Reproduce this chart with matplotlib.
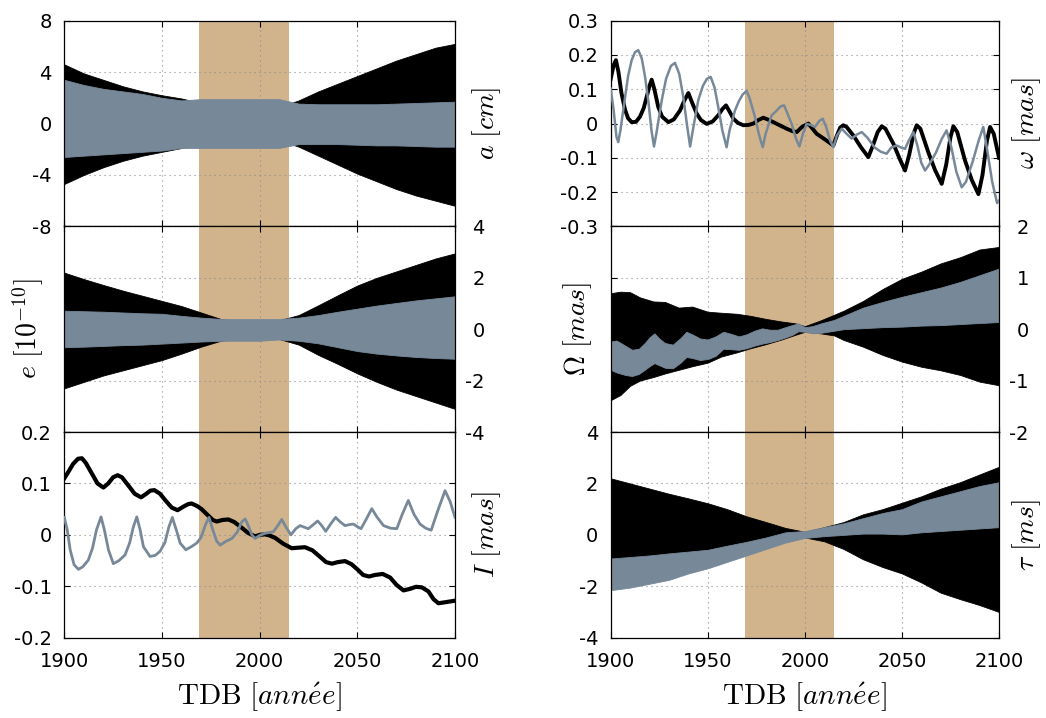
import numpy as np
import matplotlib
matplotlib.use("Agg")
from matplotlib import pyplot as plt

plt.rcParams['font.family'] = ['DejaVu Sans']
plt.rcParams['mathtext.fontset'] = 'cm'

# colours
black = '#000000'
grey = '#778899'
tan = '#D2B48C'

# LLR data span (shaded)
span = [1969, 2015]

# envelope sampling years for the dense (fast oscillation) series
yrs = np.arange(1900, 2101, 10)

# a [cm]
a_blk_hi = [4.6, 3.9, 3.4, 2.9, 2.5, 2.2, 1.95, 1.6, 1.4, 1.3, 1.2, 1.3, 1.8, 2.5, 3.1, 3.7, 4.3, 4.9, 5.4, 5.9, 6.2]
a_blk_lo = [-4.7, -4.0, -3.4, -2.9, -2.5, -2.2, -1.9, -1.6, -1.4, -1.3, -1.2, -1.3, -1.8, -2.5, -3.2, -3.9, -4.5, -5.1, -5.6, -6.0, -6.4]
a_gry_hi = [3.4, 3.0, 2.7, 2.5, 2.3, 2.0, 1.8, 1.9, 1.9, 1.9, 1.9, 1.9, 1.55, 1.5, 1.5, 1.5, 1.5, 1.55, 1.6, 1.65, 1.7]
a_gry_lo = [-2.6, -2.5, -2.4, -2.3, -2.2, -2.1, -1.9, -1.9, -1.9, -1.9, -1.9, -1.9, -1.6, -1.6, -1.6, -1.65, -1.7, -1.7, -1.75, -1.8, -1.8]

# e [1e-10]
e_blk_hi = [2.2, 1.95, 1.72, 1.5, 1.3, 1.1, 0.9, 0.65, 0.4, 0.3, 0.28, 0.35, 0.55, 0.93, 1.32, 1.7, 2.0, 2.25, 2.5, 2.75, 2.95]
e_blk_lo = [-2.3, -2.05, -1.8, -1.6, -1.4, -1.2, -0.95, -0.68, -0.45, -0.35, -0.3, -0.38, -0.6, -1.0, -1.35, -1.72, -2.05, -2.35, -2.6, -2.85, -3.1]
e_gry_hi = [0.72, 0.7, 0.68, 0.65, 0.62, 0.6, 0.52, 0.45, 0.4, 0.4, 0.4, 0.4, 0.45, 0.55, 0.68, 0.8, 0.92, 1.02, 1.12, 1.2, 1.28]
e_gry_lo = [-0.7, -0.68, -0.65, -0.62, -0.6, -0.56, -0.52, -0.48, -0.45, -0.45, -0.45, -0.4, -0.45, -0.55, -0.7, -0.85, -0.95, -1.02, -1.08, -1.12, -1.15]

# Omega [mas]
Om_blk_yrs = [1900, 1905, 1910, 1915, 1922, 1928, 1935, 1942, 1950, 1957, 1965, 1972, 1980, 1988,
              1995, 2000, 2008, 2015, 2020, 2030, 2040, 2050, 2060, 2070, 2080, 2090, 2100]
Om_blk_hi = [0.70, 0.73, 0.72, 0.62, 0.54, 0.53, 0.42, 0.44, 0.34, 0.32, 0.30, 0.26, 0.2, 0.15,
             0.115, 0.06, 0.17, 0.28, 0.36, 0.55, 0.78, 0.98, 1.12, 1.28, 1.4, 1.55, 1.6]
Om_blk_lo = [-1.38, -1.28, -1.1, -1.0, -0.93, -0.86, -0.79, -0.72, -0.65, -0.53, -0.45, -0.37, -0.29, -0.2,
             -0.11, -0.05, -0.08, -0.12, -0.21, -0.34, -0.5, -0.63, -0.73, -0.8, -0.89, -1.02, -1.09]
Om_gry_yrs = [1900, 1903, 1907.5, 1911, 1914.5, 1917.5, 1920, 1922.5, 1925, 1928,
              1932, 1936, 1939, 1942, 1946, 1950, 1954, 1958, 1962, 1966,
              1970, 1974, 1978, 1982, 1986, 1990, 1993.5, 1996.6, 2000, 2004,
              2008.5, 2015, 2020, 2030, 2040, 2050, 2060, 2070, 2080, 2090, 2100]
Om_gry_hi = [-0.24, -0.22, -0.32, -0.40, -0.38, -0.27, -0.16, -0.08, -0.18, -0.27,
             -0.3, -0.17, -0.05, -0.1, -0.18, -0.2, -0.14, -0.05, -0.09, -0.14,
             -0.1, -0.03, 0.017, -0.01, -0.01, 0.04, 0.08, 0.115, 0.04, 0.06,
             0.115, 0.18, 0.26, 0.42, 0.53, 0.63, 0.72, 0.81, 0.92, 1.05, 1.18]
Om_gry_lo = [-0.79, -0.84, -0.89, -0.91, -0.87, -0.79, -0.72, -0.66, -0.7, -0.75,
             -0.76, -0.65, -0.54, -0.56, -0.6, -0.58, -0.52, -0.38, -0.39, -0.4,
             -0.37, -0.32, -0.28, -0.25, -0.21, -0.16, -0.11, -0.04, -0.05, -0.08,
             -0.07, -0.03, 0.0, 0.02, 0.04, 0.05, 0.07, 0.08, 0.1, 0.12, 0.14]

# tau [ms]
tau_blk_hi = [2.2, 2.0, 1.8, 1.6, 1.42, 1.23, 1.0, 0.72, 0.5, 0.27, 0.12, 0.3, 0.5, 0.8, 1.0, 1.25, 1.5, 1.8, 2.05, 2.35, 2.65]
tau_blk_lo = [-1.0, -0.95, -0.87, -0.78, -0.7, -0.62, -0.47, -0.32, -0.15, -0.05, -0.1, -0.25, -0.55, -0.95, -1.25, -1.5, -1.85, -2.25, -2.5, -2.73, -3.0]
tau_gry_hi = [-0.92, -0.86, -0.8, -0.72, -0.65, -0.58, -0.42, -0.27, -0.1, 0.1, 0.15, 0.3, 0.45, 0.65, 0.85, 1.0, 1.3, 1.5, 1.7, 1.9, 2.05]
tau_gry_lo = [-2.15, -2.05, -1.9, -1.75, -1.5, -1.3, -1.05, -0.8, -0.55, -0.3, -0.12, -0.05, 0.0, 0.05, 0.05, 0.02, 0.1, 0.15, 0.2, 0.25, 0.3]

# omega [mas] (slow curves)
w_blk_t = [1900.0, 1901.5, 1902.7, 1904.0, 1905.5, 1907.4, 1909.0, 1910.8, 1913.0, 1915.1, 1917.0, 1918.5,
           1920.0, 1921.1, 1922.5, 1924.5, 1926.5, 1929.7, 1932.5, 1935.7, 1938.0, 1940.0, 1942.0, 1944.3,
           1946.5, 1949.4, 1952.5, 1955.4, 1957.5, 1959.4, 1961.2, 1963.2, 1965.5, 1968.3, 1971.0, 1973.5,
           1976.0, 1978.6, 1980.8, 1983.8, 1987.0, 1990.6, 1993.5, 1995.8, 1998.5, 2001.8,
           2006.1, 2010.0, 2014.7, 2016.5, 2018.2, 2019.8, 2021.5, 2025.0, 2029.0, 2032.7, 2035.0, 2037.5,
           2039.6, 2041.5, 2045.6, 2049.0, 2051.6, 2053.8, 2056.0, 2057.6, 2059.5, 2063.6, 2067.0, 2070.5,
           2072.8, 2075.0, 2076.5, 2078.5, 2082.5, 2086.0, 2089.4, 2091.5, 2093.8, 2095.4, 2097.3, 2100.0]
w_blk_v = [0.13, 0.17, 0.185, 0.15, 0.09, 0.04, 0.015, 0.004, 0.005, 0.02, 0.045, 0.077,
           0.11, 0.128, 0.1, 0.048, 0.02, 0.004, 0.012, 0.038, 0.068, 0.089, 0.06, 0.029,
           0.01, -0.001, 0.006, 0.024, 0.042, 0.053, 0.035, 0.014, 0.002, -0.005, -0.004, 0.0,
           0.01, 0.017, 0.012, 0.004, -0.005, -0.015, -0.022, -0.025, -0.01, 0.0,
           -0.03, -0.045, -0.064, -0.035, -0.012, -0.005, -0.01, -0.035, -0.07, -0.098, -0.065, -0.025,
           -0.008, -0.015, -0.059, -0.105, -0.137, -0.09, -0.03, -0.005, -0.015, -0.084, -0.135, -0.176,
           -0.12, -0.04, -0.008, -0.025, -0.108, -0.165, -0.206, -0.15, -0.05, -0.01, -0.03, -0.1]
w_gry_t = [1900.0, 1901.5, 1903.0, 1903.9, 1905.0, 1907.4, 1909.0, 1910.8, 1912.5, 1914.2, 1916.0, 1917.7,
           1919.5, 1921.0, 1922.3, 1923.5, 1926.3, 1928.5, 1931.0, 1933.1, 1935.3, 1937.4, 1939.2, 1940.9,
           1942.3, 1945.1, 1947.5, 1949.5, 1951.5, 1953.5, 1955.4, 1957.5, 1959.7, 1961.2, 1964.0, 1966.0,
           1968.0, 1970.0, 1971.5, 1974.3, 1976.5, 1978.3, 1979.8, 1982.9, 1985.0, 1987.5, 1989.3, 1991.0,
           1993.2, 1995.5, 1997.2, 1999.0, 2000.9, 2003.0, 2005.2, 2007.5, 2009.2, 2011.0, 2013.0, 2014.7,
           2016.5, 2019.0, 2021.5, 2024.1, 2026.8, 2029.3, 2032.0, 2036.0, 2039.0, 2042.1, 2044.5, 2047.3,
           2049.5, 2051.6, 2053.5, 2055.9, 2058.0, 2060.0, 2061.9, 2064.0, 2067.5, 2070.5, 2073.0, 2075.5,
           2078.0, 2080.8, 2083.0, 2086.5, 2089.5, 2091.9, 2094.0, 2096.5, 2099.0, 2100.0]
w_gry_v = [0.102, 0.04, -0.04, -0.054, -0.02, 0.077, 0.14, 0.185, 0.208, 0.214, 0.19, 0.136,
           0.06, -0.02, -0.067, -0.03, 0.068, 0.13, 0.168, 0.177, 0.145, 0.077, 0.0, -0.067,
           -0.02, 0.068, 0.11, 0.13, 0.136, 0.105, 0.048, -0.02, -0.069, -0.02, 0.038, 0.065,
           0.085, 0.095, 0.075, 0.019, -0.035, -0.069, -0.03, 0.024, 0.035, 0.05, 0.053, 0.03,
           -0.001, -0.045, -0.067, -0.03, -0.001, -0.004, -0.01, 0.008, 0.014, -0.01, -0.05, -0.069,
           -0.035, -0.015, -0.03, -0.044, -0.032, -0.025, -0.04, -0.07, -0.082, -0.088, -0.07, -0.064,
           -0.07, -0.074, -0.05, -0.025, -0.065, -0.115, -0.137, -0.12, -0.085, -0.045, -0.02, -0.07,
           -0.14, -0.186, -0.17, -0.11, -0.05, -0.01, -0.08, -0.17, -0.232, -0.225]

# I [mas] (slow curves)
I_blk_t = [1900.0, 1902.0, 1904.5, 1907.0, 1909.0, 1911.0, 1914.0, 1917.0, 1920.0, 1922.5, 1925.0, 1927.3,
           1929.5, 1933.0, 1936.0, 1939.3, 1942.0, 1944.0, 1946.1, 1949.0, 1952.0, 1955.0, 1958.0, 1961.0,
           1963.5, 1965.2, 1968.0, 1970.3, 1973.0, 1976.0, 1978.0, 1981.0, 1984.0, 1987.0, 1990.8, 1994.0,
           1997.7, 2000.0, 2002.7, 2005.0, 2008.0, 2012.0, 2016.4, 2019.5, 2023.2, 2027.0, 2031.0, 2034.0,
           2037.0, 2040.0, 2043.7, 2047.0, 2050.0, 2053.0, 2056.0, 2059.0, 2063.0, 2066.8, 2070.0, 2073.6,
           2077.0, 2080.0, 2083.0, 2086.4, 2089.0, 2091.5, 2095.0, 2100.0]
I_blk_v = [0.11, 0.122, 0.138, 0.148, 0.149, 0.14, 0.12, 0.1, 0.092, 0.1, 0.112, 0.116,
           0.112, 0.095, 0.08, 0.073, 0.08, 0.086, 0.087, 0.08, 0.066, 0.053, 0.048, 0.055,
           0.06, 0.061, 0.056, 0.05, 0.04, 0.029, 0.026, 0.029, 0.030, 0.025, 0.014, 0.004,
           -0.003, 0.0, 0.001, -0.001, -0.006, -0.017, -0.026, -0.025, -0.024, -0.03, -0.043, -0.053,
           -0.056, -0.053, -0.051, -0.057, -0.067, -0.078, -0.081, -0.078, -0.076, -0.083, -0.097, -0.108,
           -0.105, -0.101, -0.102, -0.11, -0.125, -0.133, -0.131, -0.128]
I_gry_t = [1900.0, 1901.5, 1903.0, 1905.0, 1907.2, 1909.5, 1912.3, 1914.5, 1916.5, 1918.8, 1920.5, 1922.6,
           1925.1, 1928.0, 1931.1, 1933.5, 1935.3, 1937.1, 1938.8, 1940.5, 1943.9, 1946.5, 1949.0, 1951.5,
           1953.5, 1955.3, 1957.3, 1959.3, 1962.2, 1965.0, 1967.8, 1970.0, 1972.3, 1974.1, 1976.0, 1978.0,
           1979.8, 1982.5, 1985.8, 1988.5, 1990.8, 1992.6, 1994.5, 1996.0, 1997.7, 2000.0, 2002.7, 2007.0,
           2009.3, 2011.3, 2013.5, 2016.0, 2018.5, 2020.7, 2022.8, 2024.9, 2027.5, 2029.7, 2031.8, 2033.8,
           2036.5, 2038.9, 2041.0, 2043.7, 2046.0, 2048.0, 2050.0, 2051.9, 2054.5, 2057.4, 2060.0, 2063.4,
           2067.0, 2070.2, 2073.0, 2076.1, 2079.0, 2082.1, 2085.0, 2087.8, 2091.0, 2094.9, 2097.5, 2100.0]
I_gry_v = [0.034, 0.01, -0.029, -0.058, -0.067, -0.062, -0.049, -0.025, 0.01, 0.035, 0.01, -0.029,
           -0.056, -0.05, -0.039, -0.015, 0.015, 0.035, 0.01, -0.023, -0.042, -0.04, -0.032, -0.015,
           0.015, 0.034, 0.01, -0.016, -0.029, -0.023, -0.016, -0.005, 0.02, 0.034, 0.01, -0.012,
           -0.020, -0.013, -0.007, 0.005, 0.025, 0.031, 0.015, 0.0, -0.007, -0.001, 0.003, 0.006,
           0.018, 0.030, 0.015, 0.0, 0.012, 0.018, 0.015, 0.012, 0.02, 0.027, 0.018, 0.007,
           0.022, 0.034, 0.026, 0.018, 0.02, 0.021, 0.016, 0.012, 0.03, 0.051, 0.035, 0.018,
           0.013, 0.012, 0.04, 0.067, 0.04, 0.021, 0.013, 0.009, 0.045, 0.086, 0.065, 0.034]

xticks = [1900, 1950, 2000, 2050, 2100]

fig = plt.figure(figsize=(10.46, 7.18), dpi=100)

W = 1046.0
H = 718.0
col_left = [64.3, 610.7]
col_width = [390.7, 388.3]
top = 20.7
ph = 205.67


def make_ax(col, row):
    l = col_left[col] / W
    b = 1 - (top + (row + 1) * ph) / H
    ax = fig.add_axes([l, b, col_width[col] / W, ph / H])
    ax.set_xlim(1900, 2100)
    ax.axvspan(span[0], span[1], color=tan, lw=0, zorder=0.2)
    ax.set_axisbelow(True)
    ax.grid(True, color='#8c8c8c', lw=0.8, linestyle=(0, (1, 3.5)))
    ax.set_xticks(xticks)
    ax.tick_params(direction='in', length=4, width=0.8, top=True, bottom=True,
                   left=True, right=True, labelsize=14, colors='black')
    ax.tick_params(axis='x', pad=10, labelbottom=(row == 2))
    for s in ax.spines.values():
        s.set_linewidth(0.9)
    return ax


def set_yside(ax, ticks, side):
    ax.set_ylim(ticks[0], ticks[-1])
    ax.set_yticks(ticks)
    ax.set_yticklabels([('%g' % t) for t in ticks])
    if side == 'left':
        ax.tick_params(axis='y', labelleft=True, labelright=False, pad=9)
    else:
        ax.tick_params(axis='y', labelleft=False, labelright=True, pad=21.5)
        for lab in ax.yaxis.get_majorticklabels():
            lab.set_ha('right')


def ylab(ax, text, x):
    ax.text(x, 0.5, text, transform=ax.transAxes, rotation=90, fontsize=20,
            ha='center', va='center')


def band(ax, t, lo, hi, c):
    ax.fill_between(t, lo, hi, color=c, lw=0.6, zorder=1)


# left column
ax = make_ax(0, 0)
band(ax, yrs, a_blk_lo, a_blk_hi, black)
band(ax, yrs, a_gry_lo, a_gry_hi, grey)
set_yside(ax, [-8, -4, 0, 4, 8], 'left')
ylab(ax, r'$a\ [cm]$', 1.082)

ax = make_ax(0, 1)
band(ax, yrs, e_blk_lo, e_blk_hi, black)
band(ax, yrs, e_gry_lo, e_gry_hi, grey)
set_yside(ax, [-4, -2, 0, 2, 4], 'right')
ylab(ax, r'$e\ [10^{-10}]$', -0.093)

ax = make_ax(0, 2)
ax.plot(I_blk_t, I_blk_v, color=black, lw=3.0, zorder=2, solid_joinstyle='round')
ax.plot(I_gry_t, I_gry_v, color=grey, lw=2.0, zorder=3, solid_joinstyle='round')
set_yside(ax, [-0.2, -0.1, 0, 0.1, 0.2], 'left')
ylab(ax, r'$I\ [mas]$', 1.082)

# right column
ax = make_ax(1, 0)
ax.plot(w_blk_t, w_blk_v, color=black, lw=2.8, zorder=2, solid_joinstyle='round')
ax.plot(w_gry_t, w_gry_v, color=grey, lw=1.8, zorder=3, solid_joinstyle='round')
set_yside(ax, [-0.3, -0.2, -0.1, 0, 0.1, 0.2, 0.3], 'left')
ylab(ax, r'$\omega\ [mas]$', 1.072)

ax = make_ax(1, 1)
band(ax, Om_blk_yrs, Om_blk_lo, Om_blk_hi, black)
band(ax, Om_gry_yrs, Om_gry_lo, Om_gry_hi, grey)
set_yside(ax, [-2, -1, 0, 1, 2], 'right')
ylab(ax, r'$\Omega\ [mas]$', -0.084)

ax = make_ax(1, 2)
band(ax, yrs, tau_blk_lo, tau_blk_hi, black)
band(ax, yrs, tau_gry_lo, tau_gry_hi, grey)
set_yside(ax, [-4, -2, 0, 2, 4], 'left')
ylab(ax, r'$\tau\ [ms]$', 1.072)

# x labels
for c in range(2):
    xc = (col_left[c] + col_width[c] / 2) / W
    fig.text(xc, 1 - 697 / H, r'$\mathrm{TDB}\ [ann\acute{e}e]$', fontsize=21,
             ha='center', va='center')

fig.savefig('out.png', dpi=100)
